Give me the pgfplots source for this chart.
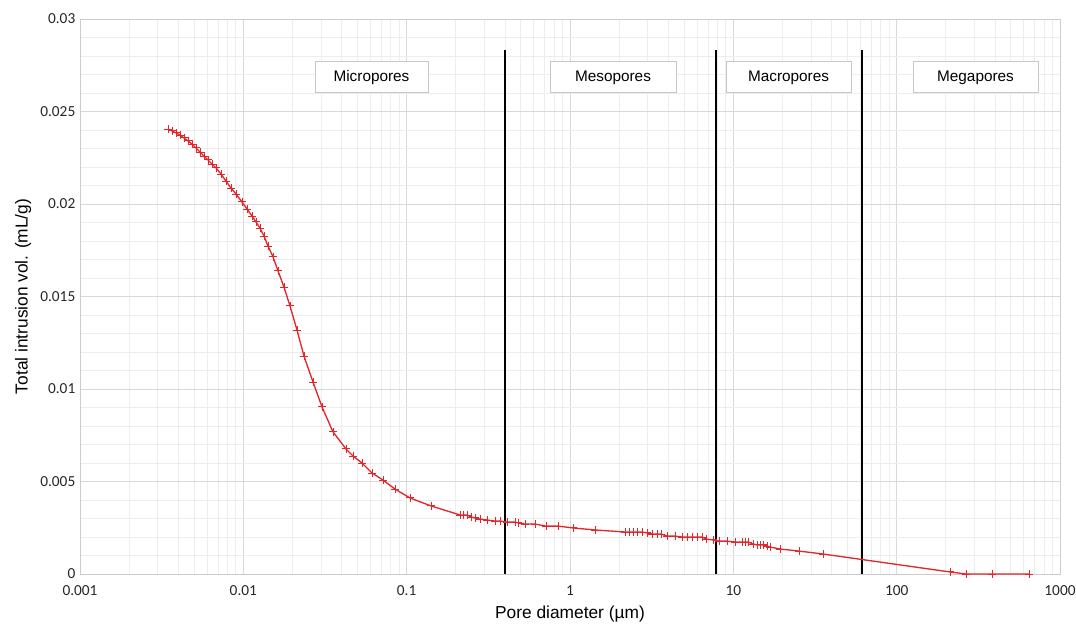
\documentclass[border=0pt]{standalone}
\usepackage{fontspec}
\setmainfont{Liberation Sans}
\newfontfamily\tickfont{Carlito}
\usepackage{pgfplots}
\pgfplotsset{compat=1.18}
\definecolor{curvered}{HTML}{E3262B}

\begin{document}
\begin{tikzpicture}
\begin{axis}[
    scale only axis,
    width=735pt, height=416.25pt,
    xmode=log,
    xmin=0.001, xmax=1000,
    ymin=0, ymax=0.03,
    scaled y ticks=false,
    xtick={0.001,0.01,0.1,1,10,100,1000},
    xticklabels={0.001,0.01,0.1,1,10,100,1000},
    ytick={0,0.005,0.01,0.015,0.02,0.025,0.03},
    yticklabels={0,0.005,0.01,0.015,0.02,0.025,0.03},
    minor ytick={0.001,0.002,0.003,0.004,0.006,0.007,0.008,0.009,0.011,0.012,0.013,0.014,0.016,0.017,0.018,0.019,0.021,0.022,0.023,0.024,0.026,0.027,0.028,0.029},
    grid=both,
    major grid style={color=black!15, line width=0.7pt},
    minor grid style={color=black!7, line width=0.7pt},
    axis line style={black!20, line width=0.7pt},
    tick style={draw=none},
    ticklabel style={font=\tickfont\fontsize{11.5}{13}\selectfont, text=black!85},
    xticklabel style={yshift=-5pt},
    xlabel={Pore diameter (µm)},
    ylabel={Total intrusion vol. (mL/g)},
    label style={font=\fontsize{13}{15}\selectfont},
    xlabel style={yshift=-1pt},
]
\coordinate (bl) at (rel axis cs:0,0);
\coordinate (tr) at (rel axis cs:1,1);

% boundary lines between pore classes
\addplot[black, line width=1.5pt] coordinates {(0.4,0) (0.4,0.0283)};
\addplot[black, line width=1.5pt] coordinates {(7.8,0) (7.8,0.0283)};
\addplot[black, line width=1.5pt] coordinates {(61,0) (61,0.0283)};

\addplot[curvered, line width=1pt, mark=+, mark size=3pt, mark options={line width=0.7pt}] coordinates {
(0.003458,0.02405) (0.003659,0.02395) (0.003870,0.02384) (0.004096,0.02373)
(0.004332,0.02357) (0.004584,0.02341) (0.004850,0.02324) (0.005131,0.02303)
(0.005429,0.02281) (0.005744,0.02259) (0.006078,0.02238) (0.006430,0.02216)
(0.006804,0.02195) (0.007299,0.02162) (0.007831,0.02124) (0.008402,0.02086)
(0.009016,0.02054) (0.009815,0.02011) (0.010532,0.01973) (0.011298,0.01935)
(0.011955,0.01903) (0.012649,0.01870) (0.013385,0.01827) (0.014160,0.01773)
(0.015198,0.01714) (0.016306,0.01638) (0.017742,0.01551) (0.019303,0.01449)
(0.021310,0.01319) (0.023510,0.01178) (0.026700,0.01038) (0.030320,0.00903)
(0.035400,0.00768) (0.042520,0.00676) (0.046930,0.00638) (0.053300,0.00600)
(0.061350,0.00546) (0.071620,0.00508) (0.084850,0.00459) (0.10480,0.00411)
(0.14090,0.00368) (0.21220,0.00319) (0.22130,0.00319) (0.23410,0.00319)
(0.24770,0.00308) (0.26210,0.00303) (0.28120,0.00297) (0.31040,0.00292)
(0.34750,0.00286) (0.37280,0.00286) (0.41140,0.00281) (0.46060,0.00281)
(0.48060,0.00276) (0.53040,0.00270) (0.61060,0.00270) (0.71290,0.00259)
(0.84460,0.00259) (1.0433,0.00249) (1.4230,0.00238) (2.1720,0.00227)
(2.2980,0.00227) (2.4310,0.00227) (2.5720,0.00227) (2.7600,0.00227)
(2.9610,0.00222) (3.1780,0.00216) (3.4100,0.00216) (3.6080,0.00216)
(3.9260,0.00205) (4.3950,0.00205) (4.8510,0.00200) (5.2040,0.00200)
(5.5850,0.00200) (5.9940,0.00200) (6.4310,0.00200) (6.8050,0.00189)
(7.5090,0.00184) (8.1730,0.00178) (9.1480,0.00178) (10.240,0.00173)
(11.300,0.00173) (11.790,0.00173) (12.300,0.00173) (13.200,0.00162)
(13.960,0.00157) (14.570,0.00157) (15.200,0.00157) (16.080,0.00151)
(16.770,0.00146) (19.310,0.00135) (25.250,0.00124) (35.410,0.00108)
(212.2,0.00011) (265.9,0) (383.5,0) (646.2,0)
};

\tikzset{porebox/.style={draw=black!22, fill=white, line width=0.7pt,
    minimum height=23.25pt, inner sep=0pt, font=\fontsize{11.5}{13}\selectfont}}
\node[porebox, minimum width=84.75pt] at (axis cs:0.0609,0.02684) {Micropores};
\node[porebox, minimum width=94.5pt] at (axis cs:1.834,0.02684) {Mesopores};
\node[porebox, minimum width=93.75pt] at (axis cs:21.77,0.02684) {Macropores};
\node[porebox, minimum width=93.75pt] at (axis cs:303.9,0.02684) {Megapores};
\end{axis}
\pgfresetboundingbox
\path ([shift={(-60pt,-37.5pt)}]bl) rectangle ([shift={(12pt,14.25pt)}]tr);
\end{tikzpicture}
\end{document}
